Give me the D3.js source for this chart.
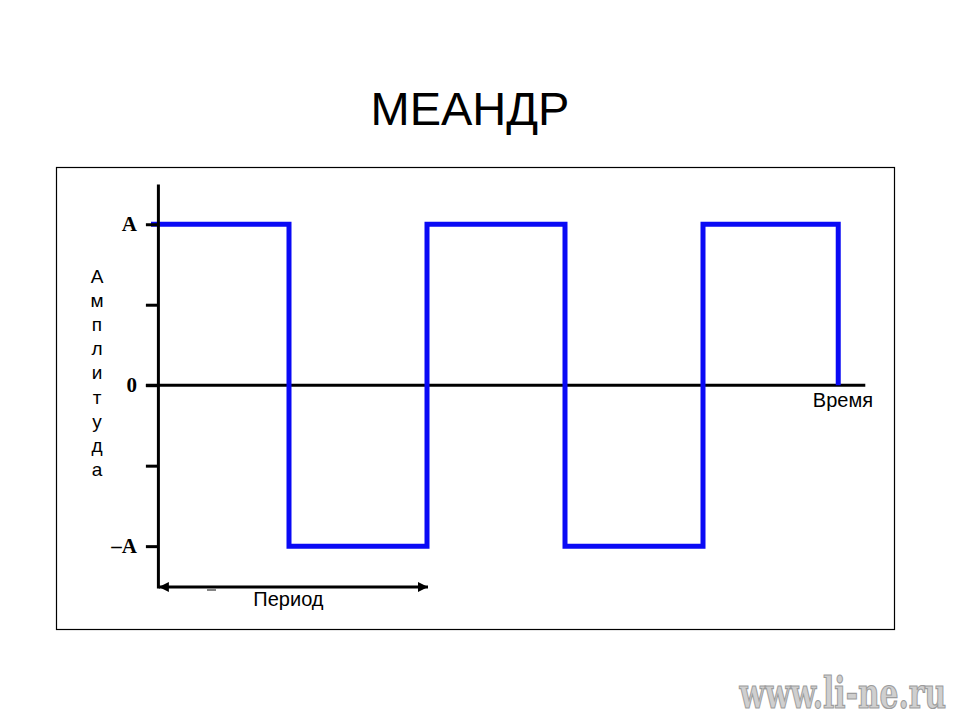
<!DOCTYPE html>
<html lang="ru">
	<head>
		<meta charset="utf-8">
		<title>Меандр</title>
		<script type="text/javascript" src="https://cdn.jsdelivr.net/npm/d3@7"></script>
		<style type="text/css">
			body { margin: 0; background: #fff; }
			svg { display: block; }
		</style>
	</head>
	<body>
		<script type="text/javascript">
			//Width and height
			var w = 960;
			var h = 720;

			//Square wave: time in periods, level in units of A (step after)
			var waveTime  = [0, 0.5, 1, 1.5, 2, 2.49];
			var waveLevel = [1, -1, 1, -1, 1, 0];

			//Y ticks
			var tickValues = [-1, -0.5, 0, 0.5, 1];
			var tickLabels = ["\u2013A", "", "0", "", "A"];

			var yLetters = "Амплитуда".split("");

			var xScale = d3.scaleLinear()
							.domain([0, 2.5])
							.range([151, 841]);
			var yScale = d3.scaleLinear()
							.domain([-1.26, 1.25])
							.range([588, 184]);

			var axisT = 0.025;   //where the vertical axis stands
			var zeroEnd = 2.588; //end of the time axis

			var svg = d3.select("body")
						.append("svg")
						.attr("width", w)
						.attr("height", h);

			//Title
			svg.append("text")
			   .attr("x", 470)
			   .attr("y", 125)
			   .attr("text-anchor", "middle")
			   .attr("font-family", "Arial, 'Liberation Sans', sans-serif")
			   .attr("font-size", "47px")
			   .attr("fill", "#000")
			   .text("МЕАНДР");

			//Frame
			svg.append("rect")
			   .attr("x", 56.5)
			   .attr("y", 167.5)
			   .attr("width", 838)
			   .attr("height", 462)
			   .attr("fill", "none")
			   .attr("stroke", "#000")
			   .attr("stroke-width", 1.2);

			//Time axis (zero line)
			svg.append("line")
			   .attr("x1", xScale(axisT) - 12)
			   .attr("x2", xScale(zeroEnd))
			   .attr("y1", yScale(0))
			   .attr("y2", yScale(0))
			   .attr("stroke", "#000")
			   .attr("stroke-width", 3);

			//Square wave
			var line = d3.line()
						 .x(function(d, i) { return xScale(waveTime[i]); })
						 .y(function(d, i) { return yScale(waveLevel[i]); })
						 .curve(d3.curveStepAfter);

			svg.append("path")
			   .datum(waveTime)
			   .attr("d", line)
			   .attr("fill", "none")
			   .attr("stroke", "#0a0af5")
			   .attr("stroke-width", 5)
			   .attr("stroke-linejoin", "miter");

			//Amplitude axis
			var yAxis = d3.axisLeft(yScale)
						  .tickValues(tickValues)
						  .tickSize(12)
						  .tickSizeOuter(0)
						  .tickPadding(9)
						  .tickFormat(function(d, i) { return tickLabels[i]; });

			var gy = svg.append("g")
						.attr("transform", "translate(" + xScale(axisT) + ",0)")
						.call(yAxis);
			gy.select(".domain")
			  .attr("stroke", "#000")
			  .attr("stroke-width", 3);
			gy.selectAll(".tick line")
			  .attr("stroke", "#000")
			  .attr("stroke-width", 3);
			gy.selectAll(".tick text")
			  .attr("font-family", "'Times New Roman', 'Liberation Serif', serif")
			  .attr("font-weight", "bold")
			  .attr("font-size", "21px")
			  .attr("fill", "#000");

			//Vertical axis title, letters stacked
			svg.append("g")
			   .selectAll("text")
			   .data(yLetters)
			   .enter()
			   .append("text")
			   .attr("x", 97)
			   .attr("y", function(d, i) { return 283 + i * 24.1; })
			   .attr("text-anchor", "middle")
			   .attr("font-family", "Arial, 'Liberation Sans', sans-serif")
			   .attr("font-size", "19px")
			   .attr("fill", "#000")
			   .text(function(d) { return d; });

			//Time label
			svg.append("text")
			   .attr("x", 873)
			   .attr("y", 407)
			   .attr("text-anchor", "end")
			   .attr("font-family", "Arial, 'Liberation Sans', sans-serif")
			   .attr("font-size", "20px")
			   .attr("fill", "#000")
			   .text("Время");

			//Period arrow
			var defs = svg.append("defs");
			["start", "end"].forEach(function(k) {
				defs.append("marker")
					.attr("id", "arrow-" + k)
					.attr("viewBox", "0 0 10 10")
					.attr("refX", k === "end" ? 10 : 0)
					.attr("refY", 5)
					.attr("markerUnits", "userSpaceOnUse")
					.attr("markerWidth", 13)
					.attr("markerHeight", 10)
					.attr("orient", "auto")
				  .append("path")
					.attr("d", k === "end" ? "M0,0L10,5L0,10z" : "M10,0L0,5L10,10z")
					.attr("fill", "#000");
			});

			var arrowY = yScale(-1.26) - 1;
			svg.append("line")
			   .attr("x1", xScale(axisT) + 1)
			   .attr("x2", xScale(1) + 1)
			   .attr("y1", arrowY)
			   .attr("y2", arrowY)
			   .attr("stroke", "#000")
			   .attr("stroke-width", 3)
			   .attr("marker-start", "url(#arrow-start)")
			   .attr("marker-end", "url(#arrow-end)");

			//stray dash under the arrow
			svg.append("line")
			   .attr("x1", 207)
			   .attr("x2", 216)
			   .attr("y1", arrowY + 3)
			   .attr("y2", arrowY + 3)
			   .attr("stroke", "#333")
			   .attr("stroke-width", 1.2);

			svg.append("text")
			   .attr("x", (xScale(axisT) + xScale(1)) / 2 - 4)
			   .attr("y", 606)
			   .attr("text-anchor", "middle")
			   .attr("font-family", "Arial, 'Liberation Sans', sans-serif")
			   .attr("font-size", "20px")
			   .attr("fill", "#000")
			   .text("Период");

			//Watermark, stretched vertically
			svg.append("text")
			   .attr("transform", "translate(946,708) scale(1,1.3)")
			   .attr("text-anchor", "end")
			   .attr("font-family", "'DejaVu Serif Condensed', 'DejaVu Serif', serif")
			   .attr("font-weight", "bold")
			   .attr("font-size", "33px")
			   .attr("fill", "#cfcfcf")
			   .attr("stroke", "#9c9c9c")
			   .attr("stroke-width", 0.9)
			   .text("www.li-ne.ru");
		</script>
	</body>
</html>
